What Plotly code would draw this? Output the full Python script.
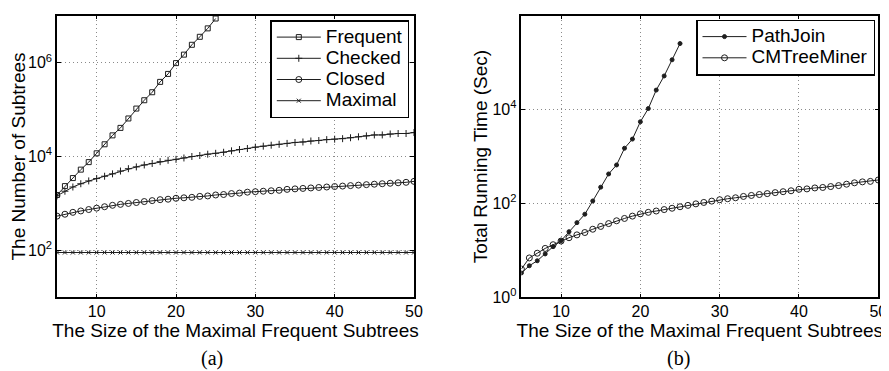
import plotly.graph_objects as go

# ---------------- data ----------------
x_all = list(range(5, 51))
x_short = list(range(5, 26))

frequent = [1510, 2340, 3470, 5250, 7590, 11700, 18200, 28200, 40700, 64600, 105000,
            158000, 234000, 389000, 575000, 977000, 1480000, 2400000, 3550000, 5370000, 8710000]
checked = [1450, 1820, 2240, 2630, 3020, 3390, 3800, 4270, 4900, 5500, 6000, 6600, 7100, 7760,
           8300, 8700, 9300, 10000, 10500, 11200, 11700, 12300, 13200, 14100, 14800, 15800,
           16600, 17400, 18200, 19000, 19900, 20400, 21400, 21900, 22900, 23400, 24000, 25100,
           26300, 27500, 28800, 28800, 30200, 30900, 30900, 32400]
closed = [537, 589, 646, 692, 741, 794, 851, 912, 955, 1000, 1047, 1096, 1148, 1202, 1230, 1288,
          1318, 1349, 1413, 1445, 1514, 1549, 1622, 1660, 1738, 1778, 1820, 1862, 1905, 1995,
          2042, 2089, 2138, 2188, 2239, 2291, 2344, 2399, 2455, 2512, 2570, 2630, 2692, 2754,
          2818, 2951]
maximal = [90, 90, 90, 90, 90, 90, 90, 90, 90, 90, 90, 90, 90, 90, 90, 90, 90, 90, 90, 90, 90,
           90, 90, 90, 90, 90, 90, 90, 90, 90, 90, 90, 90, 90, 90, 90, 90, 90, 90, 90, 90, 90,
           90, 90, 90, 90]

pathjoin = [3.3, 4.7, 6, 8.4, 12, 16, 25, 39, 59, 113, 222, 425, 660, 1500, 2350, 5500, 10500,
            26000, 52000, 115000, 255000]
cmtreeminer = [4.0, 6.9, 8.7, 11, 13.2, 15.8, 18.6, 21.4, 24, 28.2, 32.4, 37.2, 42.7, 47.9, 53.7,
               60, 64.6, 69, 74, 79, 85, 91, 98, 105, 112, 120, 126, 132, 141, 148, 155, 162,
               170, 178, 186, 200, 204, 214, 219, 229, 240, 257, 275, 288, 295, 316]

xtick_vals = [10, 20, 30, 40, 50]
ytick_vals_a = [1e2, 1e4, 1e6]
ytick_text_a = ["10<sup>2</sup>", "10<sup>4</sup>", "10<sup>6</sup>"]
ytick_vals_b = [1, 1e2, 1e4, 1e6]
ytick_text_b = ["10<sup>0</sup>", "10<sup>2</sup>", "10<sup>4</sup>", "10<sup>6</sup>"]
xtitle = "The Size of the Maximal Frequent Subtrees"
ytitle_a = "The Number of Subtrees"
ytitle_b = "Total Running Time (Sec)"
captions = ["(a)", "(b)"]

# ---------------- figure ----------------
OFF = 8  # page body margin
W, H = 889 - OFF, 371 - OFF
LC = "#1e1e1e"
FONT = "Liberation Sans, Arial, sans-serif"
LEG_TXT = 19

def px_x(p):
    return (p - OFF) / W

def px_y(p):
    return 1 - (p - OFF) / H

fig = go.Figure()

def add(x, y, name, symbol, xa, ya, legend, size=6):
    fig.add_trace(go.Scatter(
        x=x, y=y, name=f'<span style="font-size:{LEG_TXT}px">{name}</span>',
        mode="lines+markers", xaxis=xa, yaxis=ya, legend=legend,
        line=dict(color=LC, width=1),
        marker=dict(symbol=symbol, size=size, color=LC, line=dict(color=LC, width=1)),
    ))

add(x_short, frequent, "Frequent", "square-open", "x", "y", "legend", size=5)
add(x_all, checked, "Checked", "cross-thin-open", "x", "y", "legend", size=5)
add(x_all, closed, "Closed", "circle-open", "x", "y", "legend", size=6)
add(x_all, maximal, "Maximal", "x-thin-open", "x", "y", "legend", size=4)

add(x_short, pathjoin, "PathJoin", "circle", "x2", "y2", "legend2", size=4)
add(x_all, cmtreeminer, "CMTreeMiner", "circle-open", "x2", "y2", "legend2", size=6)

ydom = [px_y(297.3), px_y(15.7)]
tickfont = dict(size=16, color="black", family=FONT)
titlefont = dict(size=19, color="black", family=FONT)
GRID = dict(showgrid=True, gridcolor="#8a8a8a", griddash="1px,3px", gridwidth=1)

common_x = dict(
    range=[5, 50], tickvals=xtick_vals, showline=True, linecolor="black", linewidth=1.5,
    mirror="ticks", ticks="inside", ticklen=4, tickcolor="black",
    zeroline=False, tickfont=tickfont, ticklabelstandoff=-1,
    title=dict(text=xtitle, font=titlefont, standoff=0),
    automargin=False, **GRID,
)
common_y = dict(
    type="log", showline=True, linecolor="black", linewidth=1.5,
    mirror="ticks", ticks="inside", ticklen=4, tickcolor="black",
    zeroline=False, tickfont=tickfont, automargin=False, **GRID,
)

legend_common = dict(
    xanchor="right", yanchor="top", bgcolor="white", bordercolor="black", borderwidth=1.5,
    font=dict(size=14, color="black", family=FONT), itemwidth=44, tracegroupgap=0,
)

cap_font = dict(size=20, family="Liberation Serif, serif", color="black")

fig.update_layout(
    width=W, height=H, margin=dict(l=0, r=0, t=0, b=0),
    paper_bgcolor="white", plot_bgcolor="white",
    font=dict(family=FONT, color="black"),
    xaxis=dict(domain=[px_x(57), px_x(414)], anchor="y", **common_x),
    yaxis=dict(domain=ydom, anchor="x", range=[1, 7], tickvals=ytick_vals_a,
               ticktext=ytick_text_a,
               title=dict(text=ytitle_a, font=titlefont, standoff=0), **common_y),
    xaxis2=dict(domain=[px_x(521.4), px_x(878.3)], anchor="y2", **common_x),
    yaxis2=dict(domain=ydom, anchor="x2", range=[0, 6], tickvals=ytick_vals_b,
                ticktext=ytick_text_b,
                title=dict(text=ytitle_b, font=titlefont, standoff=0), **common_y),
    legend=dict(x=px_x(409.3), y=px_y(20), **legend_common),
    legend2=dict(x=px_x(875), y=px_y(19.5), **legend_common),
    showlegend=True,
    annotations=[
        dict(text=captions[0], x=px_x(212), y=px_y(358), xref="paper", yref="paper",
             xanchor="center", yanchor="middle", showarrow=False, font=cap_font),
        dict(text=captions[1], x=px_x(678), y=px_y(358), xref="paper", yref="paper",
             xanchor="center", yanchor="middle", showarrow=False, font=cap_font),
    ],
)

fig.write_html("out.html")
